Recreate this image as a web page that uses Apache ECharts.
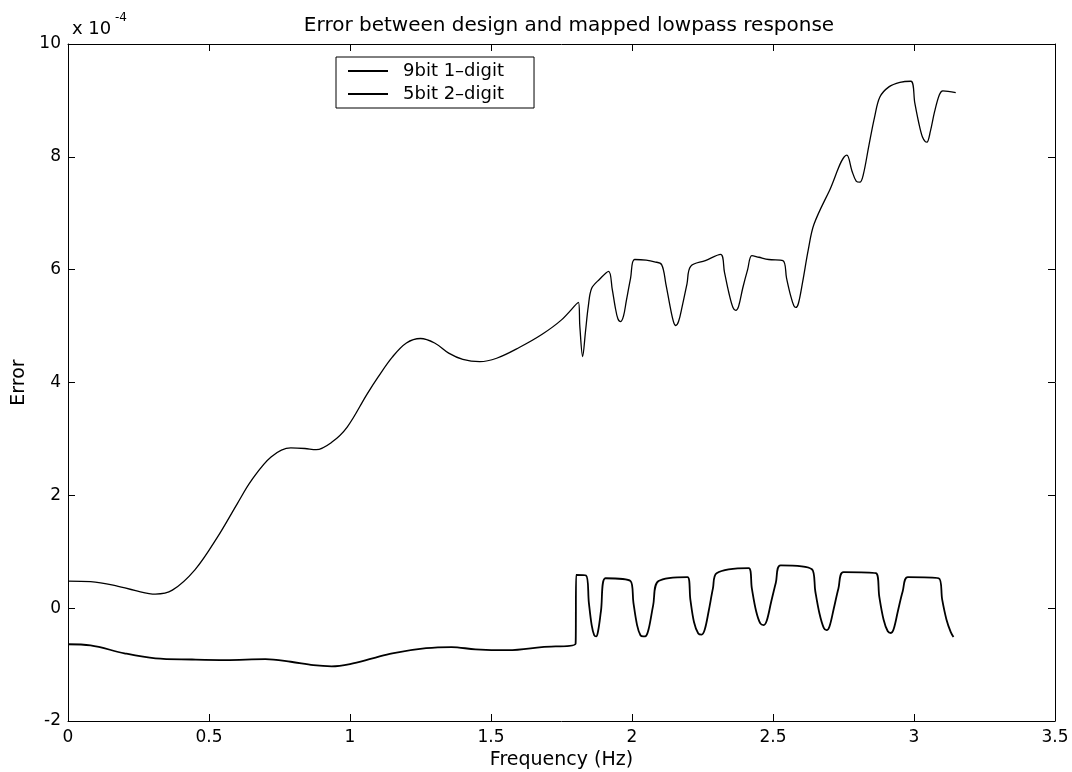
<!DOCTYPE html>
<html><head><meta charset="utf-8">
<script src="https://cdn.jsdelivr.net/npm/echarts@6/dist/echarts.min.js"></script>
<style>html,body{margin:0;padding:0;background:#fff}#c{width:1072px;height:772px}</style>
</head><body><div id="c"></div>
<script>
// Error values are in units of 1e-4
const seriesNames = ['9bit 1–digit', '5bit 2–digit'];

const lowerFreq = [0, 0.08, 0.2, 0.31, 0.44, 0.56, 0.70, 0.79, 0.87, 0.935, 1.0, 1.08, 1.15, 1.27, 1.36, 1.445, 1.56, 1.68, 1.80,
  1.802, 1.837, 1.847, 1.857, 1.866, 1.873, 1.88, 1.89, 1.906,
  1.995, 2.005, 2.018, 2.03, 2.04, 2.05, 2.06, 2.075, 2.094,
  2.197, 2.207, 2.22, 2.235, 2.247, 2.258, 2.272, 2.287, 2.30,
  2.414, 2.425, 2.44, 2.455, 2.467, 2.478, 2.493, 2.51, 2.527,
  2.638, 2.65, 2.665, 2.68, 2.69, 2.70, 2.715, 2.732, 2.75,
  2.865, 2.877, 2.892, 2.907, 2.918, 2.928, 2.943, 2.96, 2.978,
  3.088, 3.1, 3.115, 3.13, 3.14];
const lowerErr = [-0.64, -0.66, -0.80, -0.89, -0.91, -0.92, -0.905, -0.95, -1.01, -1.03, -0.99, -0.89, -0.80, -0.71, -0.69, -0.73, -0.745, -0.69, -0.63,
  0.59, 0.58, 0.1, -0.3, -0.48, -0.50, -0.4, -0.05, 0.53,
  0.48, 0.1, -0.3, -0.48, -0.50, -0.49, -0.35, 0.05, 0.48,
  0.55, 0.15, -0.25, -0.45, -0.47, -0.38, -0.05, 0.35, 0.62,
  0.71, 0.35, -0.05, -0.27, -0.30, -0.22, 0.1, 0.45, 0.76,
  0.69, 0.3, -0.1, -0.35, -0.39, -0.33, -0.02, 0.35, 0.64,
  0.62, 0.2, -0.2, -0.41, -0.44, -0.37, -0.05, 0.3, 0.55,
  0.53, 0.15, -0.2, -0.42, -0.51];

const upperFreq = [0, 0.08, 0.16, 0.24, 0.31, 0.37, 0.45, 0.53, 0.60, 0.65, 0.72, 0.79, 0.84, 0.88, 0.935, 0.99, 1.06, 1.10, 1.15, 1.20, 1.25, 1.30, 1.35, 1.40, 1.46, 1.52, 1.60, 1.68, 1.75, 1.81,
  1.815, 1.825, 1.835, 1.845, 1.857, 1.885, 1.917,
  1.93, 1.94, 1.95, 1.96, 1.97, 1.98, 1.995, 2.009, 2.05, 2.08, 2.105,
  2.12, 2.135, 2.147, 2.155, 2.165, 2.178, 2.195, 2.208, 2.26, 2.314,
  2.328, 2.343, 2.358, 2.368, 2.378, 2.393, 2.41, 2.425, 2.45, 2.485, 2.535,
  2.548, 2.562, 2.574, 2.581, 2.59, 2.605, 2.625, 2.645, 2.70, 2.762,
  2.78, 2.795, 2.808, 2.82, 2.84, 2.86, 2.879, 2.911, 2.95, 2.989,
  3.003, 3.017, 3.03, 3.04, 3.046, 3.058, 3.073, 3.09, 3.102, 3.148];
const upperErr = [0.48, 0.47, 0.41, 0.31, 0.25, 0.32, 0.68, 1.26, 1.85, 2.26, 2.68, 2.84, 2.83, 2.81, 2.94, 3.21, 3.79, 4.10, 4.45, 4.70, 4.78, 4.70, 4.52, 4.41, 4.37, 4.43, 4.62, 4.85, 5.11, 5.42,
  5.0, 4.46, 4.9, 5.35, 5.67, 5.83, 5.97,
  5.65, 5.35, 5.13, 5.08, 5.18, 5.45, 5.85, 6.18, 6.17, 6.14, 6.09,
  5.75, 5.35, 5.08, 5.01, 5.08, 5.35, 5.75, 6.06, 6.16, 6.27,
  5.95, 5.6, 5.33, 5.28, 5.35, 5.68, 6.0, 6.25, 6.22, 6.18, 6.16,
  5.85, 5.55, 5.36, 5.33, 5.4, 5.78, 6.35, 6.80, 7.4, 8.03,
  7.75, 7.57, 7.55, 7.68, 8.2, 8.7, 9.06, 9.24, 9.32, 9.34,
  8.95, 8.6, 8.35, 8.27, 8.26, 8.45, 8.8, 9.1, 9.17, 9.14];

const zip = (xs, ys) => xs.map((x, i) => [x, ys[i]]);
const FONT = '"DejaVu Sans", "Liberation Sans", Arial, sans-serif';

const chart = echarts.init(document.getElementById('c'), null, {renderer: 'canvas'});
const axisCommon = {
  axisLine: {show: true, onZero: false, lineStyle: {color: '#000', width: 1}},
  axisTick: {show: true, inside: true, length: 7, lineStyle: {color: '#000'}},
  splitLine: {show: false}
};
chart.setOption({
  backgroundColor: '#fff',
  animation: false,
  title: {
    text: 'Error between design and mapped lowpass response',
    left: 564, textAlign: 'center', top: 11,
    textStyle: {fontFamily: FONT, fontSize: 20, fontWeight: 'normal', color: '#000'}
  },
  grid: {left: 68, right: 17, top: 44, bottom: 51, containLabel: false, outerBoundsMode: 'none'},
  legend: {
    orient: 'vertical', left: 336, top: 57,
    data: [
      {name: seriesNames[0], icon: 'rect', itemStyle: {color: '#000'}},
      {name: seriesNames[1], icon: 'rect', itemStyle: {color: '#000'}}
    ],
    itemWidth: 40, itemHeight: 2, itemGap: 5,
    borderColor: '#000', borderWidth: 1, borderRadius: 0,
    backgroundColor: '#fff',
    padding: [5, 30, 5, 12],
    textStyle: {fontFamily: FONT, fontSize: 18, color: '#000', padding: [0, 0, 0, 10]}
  },
  xAxis: [
    Object.assign({}, axisCommon, {
      type: 'value', min: 0, max: 3.5, interval: 0.5, position: 'bottom',
      name: 'Frequency (Hz)', nameLocation: 'middle', nameGap: 29,
      nameTextStyle: {fontFamily: FONT, fontSize: 19, color: '#000'},
      axisLabel: {fontFamily: FONT, fontSize: 17, color: '#000', margin: 8}
    }),
    Object.assign({}, axisCommon, {
      type: 'value', min: 0, max: 3.5, interval: 0.5, position: 'top',
      axisLabel: {show: false}
    })
  ],
  yAxis: [
    Object.assign({}, axisCommon, {
      type: 'value', min: -2, max: 10, interval: 2, position: 'left',
      name: 'Error', nameLocation: 'middle', nameGap: 38, nameRotate: 90,
      nameTextStyle: {fontFamily: FONT, fontSize: 19, color: '#000'},
      axisLabel: {fontFamily: FONT, fontSize: 17, color: '#000', margin: 7}
    }),
    Object.assign({}, axisCommon, {
      type: 'value', min: -2, max: 10, interval: 2, position: 'right',
      axisLabel: {show: false}
    })
  ],
  graphic: [
    {type: 'text', left: 72, top: 20, style: {text: 'x 10', font: '18px ' + FONT, fill: '#000'}},
    {type: 'text', left: 115, top: 12, style: {text: '-4', font: '12px ' + FONT, fill: '#000'}}
  ],
  series: [
    {
      name: seriesNames[0], type: 'line', xAxisIndex: 0, yAxisIndex: 0,
      data: zip(lowerFreq, lowerErr), symbol: 'none', smooth: 0.35,
      lineStyle: {color: '#000', width: 1.8}, itemStyle: {color: '#000'}
    },
    {
      name: seriesNames[1], type: 'line', xAxisIndex: 0, yAxisIndex: 0,
      data: zip(upperFreq, upperErr), symbol: 'none', smooth: 0.35,
      lineStyle: {color: '#000', width: 1.3}, itemStyle: {color: '#000'}
    }
  ]
});
</script>
</body></html>
